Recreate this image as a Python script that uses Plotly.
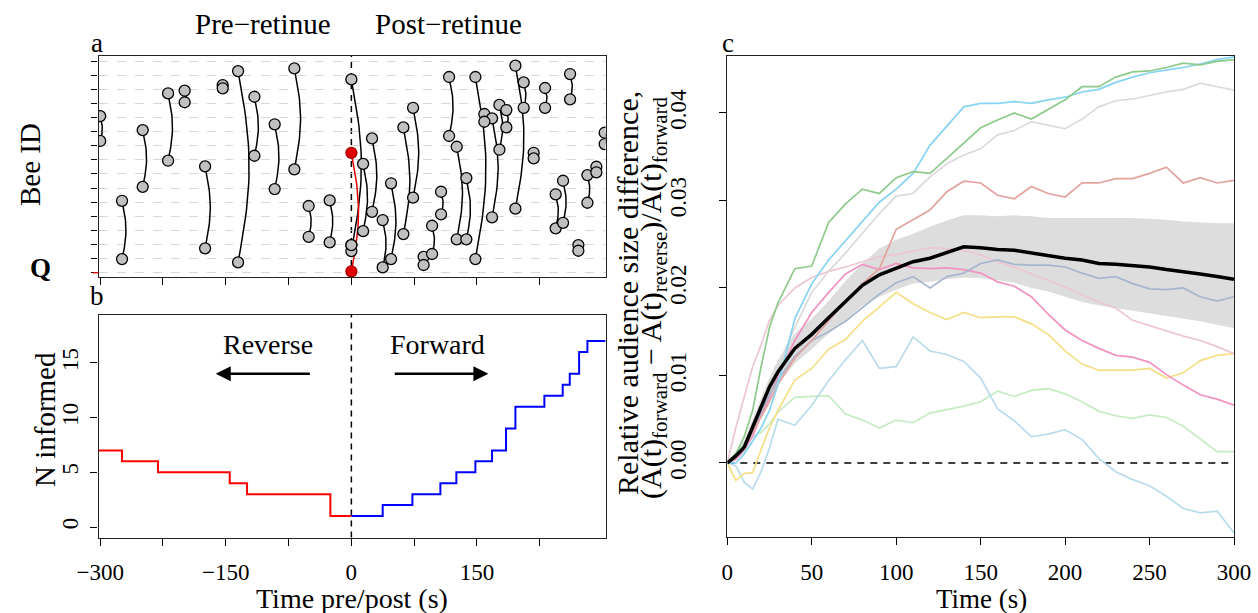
import numpy as np
import plotly.graph_objects as go

W, H = 1258, 613
FONT = "Liberation Serif"

# ---------------- Panel a: interaction pairs (time, bee id start, bee id end)
pair_t = [-300.0, -273.9, -249.2, -218.9, -199.1, -153.7, -174.7, -135.3, -115.8, -91.6,
          -68.1, -51.0, -25.9, 0.0, 0.0, 14.0, 24.7, 37.4, 47.4, 62.1, 73.7, 86.3, 96.4,
          107.1, 116.7, 125.8, 137.3, 148.1, 158.8, 168.0, 176.8, 185.1, 195.9, 205.8,
          217.7, 231.3, 244.0, 252.8, 261.2, 271.1, 281.9, 292.6, 302.5]
pair_id_start = [11.10, 5.10, 10.11, 12.71, 12.90, 13.30, 7.54, 14.29, 12.47, 10.52,
                 14.48, 4.73, 5.13, 13.70, 1.96, 7.72, 9.52, 3.73, 6.34, 10.30, 11.69, 1.13,
                 3.33, 5.74, 13.87, 8.93, 6.71, 13.87, 11.25, 10.94, 11.89, 11.53, 14.67,
                 13.49, 8.50, 13.09, 5.56, 6.52, 14.08, 1.96, 6.92, 7.51, 9.92]
pair_id_end = [9.34, 0.97, 6.09, 7.94, 12.08, 13.07, 1.73, 0.74, 8.29, 5.93,
               7.33, 2.55, 2.15, 1.54, 1.96, 2.95, 4.32, 0.38, 0.97, 2.74, 5.32, 0.55,
               1.33, 4.14, 9.69, 2.37, 2.37, 0.97, 10.70, 3.93, 8.72, 10.30, 4.54,
               11.69, 8.11, 11.69, 3.15, 3.54, 12.29, 1.56, 4.96, 7.12, 9.12]
queen_t = [0.0]
queen_id_start = [8.50]
queen_id_end = [0.10]
bee_ticks = list(range(16))

# ---------------- Panel b: number informed (step functions)
rev_t = [-302.0, -273.9, -230.9, -145.3, -124.6, -25.1, 0.0]
rev_n = [7, 6, 5, 4, 3, 1, 1]
fwd_t = [0.0, 37.4, 72.9, 106.3, 125.4, 148.1, 168.0, 184.7, 195.9, 230.5, 252.4,
         260.8, 272.0, 281.9, 303.5]
fwd_n = [1, 2, 3, 4, 5, 6, 7, 9, 11, 12, 13, 14, 16, 17, 17]
b_xticks = [-300, -225, -150, -75, 0, 75, 150, 225]
b_xlabels = ["\u2212300", "", "\u2212150", "", "0", "", "150", ""]

# ---------------- Panel c: relative audience size difference
time_s = [0, 5, 10, 15, 20, 25, 30, 40, 50, 60, 70, 80, 90, 100, 110, 120, 130, 140, 150,
          160, 170, 180, 190, 200, 210, 220, 230, 240, 250, 260, 270, 280, 290, 300]
s_green = [0, .0010, .0030, .0060, .0110, .0155, .0183, .0222, .0225, .0275, .0296, .0313,
           .0308, .0326, .0333, .0331, .0348, .0366, .0383, .0392, .0400, .0393, .0404,
           .0415, .0430, .0430, .0441, .0447, .0448, .0452, .0457, .0455, .0459, .0461]
s_sky = [0, 0, .0010, .0025, .0040, .0060, .0090, .0165, .0205, .0232, .0254, .0277, .0298,
         .0313, .0331, .0363, .0385, .0407, .0411, .0411, .0413, .0411, .0415, .0418, .0424,
         .0427, .0435, .0441, .0446, .0449, .0452, .0456, .0461, .0464]
s_gray = [0, .0008, .0020, .0040, .0065, .0090, .0110, .0155, .0195, .0219, .0240, .0262,
          .0285, .0305, .0308, .0327, .0342, .0352, .0359, .0375, .0380, .0390, .0386,
          .0382, .0393, .0407, .0414, .0416, .0420, .0424, .0427, .0434, .0430, .0426]
s_salmon = [0, .0005, .0018, .0035, .0052, .0070, .0090, .0120, .0140, .0162, .0185, .0205,
            .0222, .0267, .0278, .0289, .0310, .0322, .0320, .0306, .0302, .0316, .0308,
            .0304, .0320, .0320, .0325, .0325, .0331, .0338, .0320, .0326, .0320, .0323]
s_steel = [0, .0006, .0017, .0035, .0058, .0078, .0095, .0122, .0140, .0150, .0162, .0178,
           .0193, .0206, .0213, .0200, .0213, .0217, .0228, .0232, .0227, .0226, .0226,
           .0224, .0217, .0211, .0213, .0205, .0199, .0198, .0200, .0190, .0185, .0190]
s_pinklight = [0, .0040, .0075, .0110, .0135, .0163, .0180, .0200, .0212, .0219, .0224,
               .0230, .0236, .0238, .0242, .0246, .0245, .0243, .0238, .0230, .0224, .0216,
               .0209, .0201, .0192, .0184, .0177, .0163, .0157, .0151, .0145, .0140, .0133,
               .0125]
s_hotpink = [0, .0004, .0015, .0030, .0055, .0075, .0100, .0140, .0172, .0195, .0216, .0227,
             .0221, .0228, .0223, .0222, .0223, .0221, .0217, .0207, .0202, .0190, .0170,
             .0152, .0140, .0131, .0123, .0121, .0115, .0101, .0089, .0078, .0073, .0066]
s_yellow = [0, -.0020, -.0012, -.0011, .0015, .0040, .0060, .0095, .0108, .0130, .0141,
            .0162, .0178, .0195, .0182, .0172, .0164, .0172, .0166, .0167, .0167, .0159,
            .0147, .0128, .0113, .0106, .0106, .0106, .0108, .0097, .0103, .0117, .0123,
            .0125]
s_lightgreen = [0, .0012, .0022, .0030, .0035, .0045, .0058, .0075, .0076, .0077, .0056,
                .0049, .0040, .0049, .0046, .0057, .0061, .0065, .0070, .0082, .0076, .0083,
                .0085, .0079, .0070, .0059, .0054, .0051, .0055, .0052, .0042, .0028, .0013,
                .0013]
s_lightblue = [0, -.0003, -.0022, -.0030, -.0010, .0017, .0050, .0043, .0066, .0094, .0118,
               .0140, .0108, .0110, .0144, .0128, .0124, .0116, .0097, .0062, .0048, .0030,
               .0033, .0038, .0027, .0005, -.0010, -.0019, -.0026, -.0038, -.0052, -.0057,
               -.0055, -.0080]
mean_diff = [0, .0008, .0018, .0040, .0064, .0087, .0104, .0131, .0147, .0166, .0185, .0203,
             .0215, .0223, .0230, .0234, .0240, .0247, .0246, .0244, .0243, .0240, .0236,
             .0234, .0232, .0228, .0227, .0226, .0224, .0221, .0218, .0216, .0213, .0210]
band_upper = [0, .0012, .0026, .0050, .0075, .0098, .0118, .0148, .0165, .0185, .0208, .0228,
              .0245, .0255, .0262, .0270, .0277, .0283, .0283, .0282, .0283, .0282, .0280,
              .0280, .0280, .0280, .0280, .0280, .0279, .0278, .0276, .0275, .0274, .0274]
band_lower = [0, .0004, .0010, .0030, .0053, .0072, .0090, .0114, .0130, .0148, .0163, .0180,
              .0190, .0198, .0205, .0207, .0210, .0212, .0211, .0209, .0206, .0200, .0196,
              .0190, .0184, .0180, .0177, .0174, .0171, .0168, .0165, .0162, .0158, .0154]
c_yticks = [0.0, 0.01, 0.02, 0.03, 0.04]
c_ylabels = ["0.00", "0.01", "0.02", "0.03", "0.04"]
c_xticks = [0, 50, 100, 150, 200, 250, 300]

series = [
    (s_lightgreen, "#c6ebc2"), (s_lightblue, "#b9dcea"), (s_yellow, "#f4df86"),
    (s_hotpink, "#f292c2"), (s_pinklight, "#ecc6d2"), (s_steel, "#a5b6cd"),
    (s_salmon, "#e3a29d"), (s_gray, "#dadada"), (s_sky, "#86d3f2"), (s_green, "#8dca8b"),
]


def px_x(p):
    return p / W


def px_y(p):
    return 1 - p / H


fig = go.Figure()


def arcs(ts, y0s, y1s):
    xs, ys = [], []
    s = np.linspace(0, 1, 30)
    for t, a, b in zip(ts, y0s, y1s):
        bulge = 0.9 * abs(b - a) + 1.0 if abs(b - a) > 0.05 else 0.0
        xs += list(t + bulge * np.sin(np.pi * s)) + [None]
        ys += list(a + (b - a) * s) + [None]
    return xs, ys


ax_, ay_ = arcs(pair_t, pair_id_start, pair_id_end)
fig.add_trace(go.Scatter(x=ax_, y=ay_, mode="lines", line=dict(color="black", width=1.5),
                         xaxis="x", yaxis="y", hoverinfo="skip"))
rx_, ry_ = arcs(queen_t, queen_id_start, queen_id_end)
fig.add_trace(go.Scatter(x=rx_, y=ry_, mode="lines", line=dict(color="#e00000", width=1.5),
                         xaxis="x", yaxis="y", hoverinfo="skip"))
fig.add_trace(go.Scatter(x=pair_t + pair_t, y=pair_id_start + pair_id_end, mode="markers",
                         marker=dict(size=11, color="#c0c0c0", line=dict(color="black", width=1.3)),
                         xaxis="x", yaxis="y"))
fig.add_trace(go.Scatter(x=queen_t + queen_t, y=queen_id_start + queen_id_end, mode="markers",
                         marker=dict(size=11, color="#e00000", line=dict(color="#a00000", width=1.3)),
                         xaxis="x", yaxis="y"))

# panel b
fig.add_trace(go.Scatter(x=rev_t, y=rev_n, mode="lines", line=dict(color="#ff0000", width=2, shape="hv"),
                         xaxis="x2", yaxis="y2"))
fig.add_trace(go.Scatter(x=fwd_t, y=fwd_n, mode="lines", line=dict(color="#0000ff", width=2, shape="hv"),
                         xaxis="x2", yaxis="y2"))

# panel c
fig.add_trace(go.Scatter(x=time_s, y=band_lower, mode="lines", line=dict(width=0, color="#dddddd"),
                         xaxis="x3", yaxis="y3", hoverinfo="skip"))
fig.add_trace(go.Scatter(x=time_s, y=band_upper, mode="lines", line=dict(width=0, color="#dddddd"),
                         fill="tonexty", fillcolor="#dddddd", xaxis="x3", yaxis="y3", hoverinfo="skip"))
for vals, col in series:
    fig.add_trace(go.Scatter(x=time_s, y=vals, mode="lines", line=dict(color=col, width=1.7),
                             xaxis="x3", yaxis="y3"))
fig.add_trace(go.Scatter(x=time_s, y=mean_diff, mode="lines", line=dict(color="black", width=3.5),
                         xaxis="x3", yaxis="y3"))

axis_common = dict(showline=True, mirror=True, linecolor="#222222", linewidth=1.3,
                   ticks="outside", tickcolor="black", tickwidth=1.2, ticklen=7,
                   zeroline=False, showgrid=False, automargin=False,
                   tickfont=dict(family=FONT, size=23, color="black"))

xa_dom = [98.5 / W, 605.5 / W]
fig.update_layout(
    template="none",
    width=W, height=H, margin=dict(l=0, r=0, t=0, b=0, pad=0), autosize=False,
    paper_bgcolor="white", plot_bgcolor="white", showlegend=False,
    font=dict(family=FONT, color="black"),
    xaxis=dict(domain=xa_dom, range=[-302, 303.5], anchor="y", tickvals=b_xticks,
               showticklabels=False, **axis_common),
    yaxis=dict(domain=[px_y(277), px_y(55.7)], range=[-0.3, 15.38], anchor="x",
               tickvals=bee_ticks, showticklabels=False,
               **{**axis_common, "showgrid": True, "ticklen": 6}),
    xaxis2=dict(domain=xa_dom, range=[-302, 303.5], anchor="y2", tickvals=b_xticks,
                ticktext=b_xlabels, ticklabelstandoff=7, **axis_common),
    yaxis2=dict(domain=[px_y(537.5), px_y(315)], range=[-0.96, 19.38], anchor="x2",
                tickvals=[0, 5, 10, 15], tickangle=-90, ticklabelstandoff=3, **axis_common),
    xaxis3=dict(domain=[727.3 / W, 1234 / W], range=[0, 300], anchor="y3", tickvals=c_xticks,
                ticklabelstandoff=7, **axis_common),
    yaxis3=dict(domain=[px_y(537), px_y(56)], range=[-0.00846, 0.04651], anchor="x3",
                tickvals=c_yticks, ticktext=c_ylabels, tickangle=-90, ticklabelstandoff=24,
                **axis_common),
)
fig.layout.yaxis.gridcolor = "#d8d8d8"
fig.layout.yaxis.griddash = "dash"
fig.layout.yaxis.gridwidth = 1

shapes = [
    dict(type="line", xref="x", yref="y domain", x0=0, x1=0, y0=0, y1=1, layer="below",
         line=dict(color="black", width=1.5, dash="6px,5px")),
    dict(type="line", xref="x2", yref="y2 domain", x0=0, x1=0, y0=0, y1=1, layer="below",
         line=dict(color="black", width=1.5, dash="6px,5px")),
    dict(type="line", xref="x3 domain", yref="y3", x0=0, x1=1, y0=0, y1=0, layer="below",
         line=dict(color="black", width=1.5, dash="7px,6px")),
    dict(type="line", xref="x domain", yref="y", x0=-6 / 507, x1=0, y0=0, y1=0,
         line=dict(color="#e00000", width=1.3)),
]
fig.update_layout(shapes=shapes)


def ann(text, x, y, size=28, angle=0, **kw):
    return dict(text=text, x=px_x(x), y=px_y(y), xref="paper", yref="paper", showarrow=False,
                textangle=angle, font=dict(family=FONT, size=size, color="black"),
                xanchor="center", yanchor="middle", **kw)


annotations = [
    ann("Pre\u2212retinue", 263, 24, 29),
    ann("Post\u2212retinue", 449, 24, 29),
    ann("a", 97, 43, 27),
    ann("b", 97, 296, 27),
    ann("c", 728, 43, 27),
    ann("Bee ID", 30, 165, 29, -90),
    ann("<b>Q</b>", 40, 268, 27),
    ann("N informed", 45, 420, 29, -90),
    ann("Time pre/post (s)", 352, 598, 28),
    ann("Time (s)", 981, 599, 27),
    ann("Relative audience size difference,", 627, 293, 30, -90),
    ann("(A(t)<sub>forward</sub> \u2212 A(t)<sub>reverse</sub>)/A(t)<sub>forward</sub>", 653, 298, 30, -90),
    dict(text="Reverse", x=-99, y=16.7, xref="x2", yref="y2", showarrow=False,
         font=dict(family=FONT, size=28, color="black")),
    dict(text="Forward", x=102.7, y=16.7, xref="x2", yref="y2", showarrow=False,
         font=dict(family=FONT, size=28, color="black")),
    dict(text="", x=-162, y=14.0, ax=-47.8, ay=14.0, xref="x2", yref="y2", axref="x2",
         ayref="y2", showarrow=True, arrowhead=2, arrowsize=1.2, arrowwidth=2.5,
         arrowcolor="black"),
    dict(text="", x=163.6, y=14.0, ax=50, ay=14.0, xref="x2", yref="y2", axref="x2",
         ayref="y2", showarrow=True, arrowhead=2, arrowsize=1.2, arrowwidth=2.5,
         arrowcolor="black"),
]
fig.update_layout(annotations=annotations)

fig.write_html("out.html", config={"displayModeBar": False},
               post_script="document.body.style.margin='0px';")
